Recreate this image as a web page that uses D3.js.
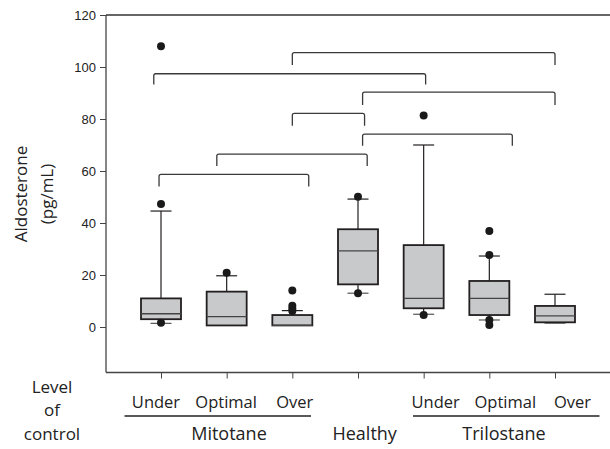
<!DOCTYPE html>
<html><head><meta charset="utf-8">
<script src="https://cdn.jsdelivr.net/npm/d3@7"></script>
<style>
body{margin:0;background:#fff;}
svg{display:block;}
</style></head>
<body>
<svg id="c" width="610" height="449"></svg>
<script>
// ---- data ----
const groups = ["Mitotane Under","Mitotane Optimal","Mitotane Over","Healthy","Trilostane Under","Trilostane Optimal","Trilostane Over"];
const q1      = [3.0, 0.6, 0.6, 16.4, 7.2, 4.6, 1.8];
const medians = [5.1, 4.0, 0.6, 29.3, 11.0, 11.0, 4.3];
const q3      = [11.0, 13.6, 4.6, 37.6, 31.5, 17.7, 8.1];
const whiskLo = [1.4, 0.6, 0.6, 13.0, 4.9, 2.7, 1.5];
const whiskHi = [44.6, 19.7, 6.3, 49.2, 70.0, 27.3, 12.6];
const outliers = [
  [108, 47.3, 1.6],
  [20.9],
  [14.0, 8.2, 7.0, 6.2],
  [50.1, 13.0],
  [81.3, 4.6],
  [36.9, 27.7, 2.7, 0.8],
  []
];
const yTicks = [0, 20, 40, 60, 80, 100, 120];
const subLabels = ["Under","Optimal","Over","","Under","Optimal","Over"];
const treatLabels = ["Mitotane","Healthy","Trilostane"];
// significance brackets (group index units for legs, data units for heights)
const bracketLeft  = [2.0, -0.11, 3.07, 2.0, 3.07, 0.85, -0.03];
const bracketRight = [6.0, 4.03, 6.0, 3.1, 5.35, 3.14, 2.25];
const bracketTop   = [105.5, 97.4, 90.3, 82.2, 74.2, 66.5, 58.7];
const bracketFoot  = [100.8, 93.3, 85.4, 77.4, 69.7, 61.9, 54.0];

// ---- layout ----
const svg = d3.select("#c");
const mL = 106, mT = 15, mB = 372.5, mR = 610;
const y = d3.scaleLinear().domain([-17.5, 120]).range([mB, mT]);
const x = d3.scalePoint().domain(groups).range([161, 555]);
const xi = d3.scaleLinear().domain([0, 6]).range([161, 555]);
const dark = "#231f20";
const font = "'Liberation Sans', Arial, sans-serif";
const lfont = "'Open Sans', 'Noto Sans', sans-serif";

// y axis
const yAxis = svg.append("g").attr("transform", `translate(${mL},0)`)
  .call(d3.axisLeft(y).tickValues(yTicks).tickSize(6).tickPadding(4).tickSizeOuter(0));
yAxis.select(".domain").remove();
yAxis.selectAll(".tick line").attr("stroke", "#444").attr("stroke-width", 1);
yAxis.selectAll(".tick text").attr("font-family", font).attr("font-size", 13).attr("fill", "#222");

// frame lines (left, top, bottom)
svg.append("line").attr("x1", mL).attr("x2", mL).attr("y1", mT).attr("y2", mB)
  .attr("stroke", "#444").attr("stroke-width", 1.3);
svg.append("line").attr("x1", mL).attr("x2", mR).attr("y1", mT).attr("y2", mT)
  .attr("stroke", "#333").attr("stroke-width", 1.3);

// x axis
const xAxis = svg.append("g").attr("transform", `translate(0,${mB})`)
  .call(d3.axisBottom(x).tickSize(6).tickFormat(""));
xAxis.select(".domain").remove();
xAxis.selectAll(".tick line").attr("stroke", "#444").attr("stroke-width", 1);
svg.append("line").attr("x1", mL).attr("x2", mR).attr("y1", mB).attr("y2", mB)
  .attr("stroke", "#444").attr("stroke-width", 1.3);

// brackets
const bg = svg.append("g").attr("fill", "none").attr("stroke", "#3a3a3a").attr("stroke-width", 1.3);
bracketTop.forEach((t, i) => {
  const x1 = xi(bracketLeft[i]), x2 = xi(bracketRight[i]);
  const yt = y(t), yf = y(bracketFoot[i]);
  bg.append("path").attr("d",
    `M${x1},${yf} L${x1},${yt + 2} Q${x1},${yt} ${x1 + 2},${yt} L${x2 - 2},${yt} Q${x2},${yt} ${x2},${yt + 2} L${x2},${yf}`);
});

// boxes
const boxW = 40, capW = 21;
const g = svg.append("g");
groups.forEach((name, i) => {
  const cx = x(name);
  if (whiskHi[i] > q3[i]) {
    g.append("line").attr("x1", cx).attr("x2", cx).attr("y1", y(q3[i])).attr("y2", y(whiskHi[i]))
      .attr("stroke", dark).attr("stroke-width", 1.2);
    g.append("line").attr("x1", cx - capW / 2).attr("x2", cx + capW / 2).attr("y1", y(whiskHi[i])).attr("y2", y(whiskHi[i]))
      .attr("stroke", dark).attr("stroke-width", 1.2);
  }
  if (whiskLo[i] < q1[i]) {
    g.append("line").attr("x1", cx).attr("x2", cx).attr("y1", y(q1[i])).attr("y2", y(whiskLo[i]))
      .attr("stroke", dark).attr("stroke-width", 1.2);
    g.append("line").attr("x1", cx - capW / 2).attr("x2", cx + capW / 2).attr("y1", y(whiskLo[i])).attr("y2", y(whiskLo[i]))
      .attr("stroke", "#555").attr("stroke-width", 1.2);
  }
  g.append("rect").attr("x", cx - boxW / 2).attr("width", boxW)
    .attr("y", y(q3[i])).attr("height", y(q1[i]) - y(q3[i]))
    .attr("fill", "#c8c9cb").attr("stroke", dark).attr("stroke-width", 1.8);
  g.append("line").attr("x1", cx - boxW / 2).attr("x2", cx + boxW / 2).attr("y1", y(medians[i])).attr("y2", y(medians[i]))
    .attr("stroke", "#444").attr("stroke-width", 1.3);
  outliers[i].forEach(v => {
    g.append("circle").attr("cx", cx).attr("cy", y(v)).attr("r", 4).attr("fill", "#1a1a1a");
  });
});

// y title
const ytl = svg.append("g").attr("font-family", lfont).attr("font-size", 17).attr("fill", "#222").attr("text-anchor", "middle");
ytl.append("text").attr("transform", "translate(27,194) rotate(-90)").text("Aldosterone");
ytl.append("text").attr("transform", "translate(53,194) rotate(-90)").text("(pg/mL)");

// bottom labels
const lab = svg.append("g").attr("font-family", lfont).attr("fill", "#222").attr("text-anchor", "middle");
lab.append("text").attr("x", 52).attr("y", 393).attr("font-size", 17).text("Level");
lab.append("text").attr("x", 52).attr("y", 416).attr("font-size", 17).text("of");
lab.append("text").attr("x", 52).attr("y", 440).attr("font-size", 17).text("control");
const subOffset = [-5, -0.5, 2.5, 0, 12, 16, 17.5];
groups.forEach((name, i) => {
  if (subLabels[i]) lab.append("text").attr("x", x(name) + subOffset[i]).attr("y", 408)
    .attr("font-size", 16.5).text(subLabels[i]);
});
svg.append("line").attr("x1", 124.5).attr("x2", 311).attr("y1", 416).attr("y2", 416).attr("stroke", "#222").attr("stroke-width", 1.3);
svg.append("line").attr("x1", 413).attr("x2", 599.5).attr("y1", 416).attr("y2", 416).attr("stroke", "#222").attr("stroke-width", 1.3);
const tx = [229, 364.7, 504];
treatLabels.forEach((t, i) => lab.append("text").attr("x", tx[i]).attr("y", 440).attr("font-size", 18).text(t));
</script>
</body></html>
